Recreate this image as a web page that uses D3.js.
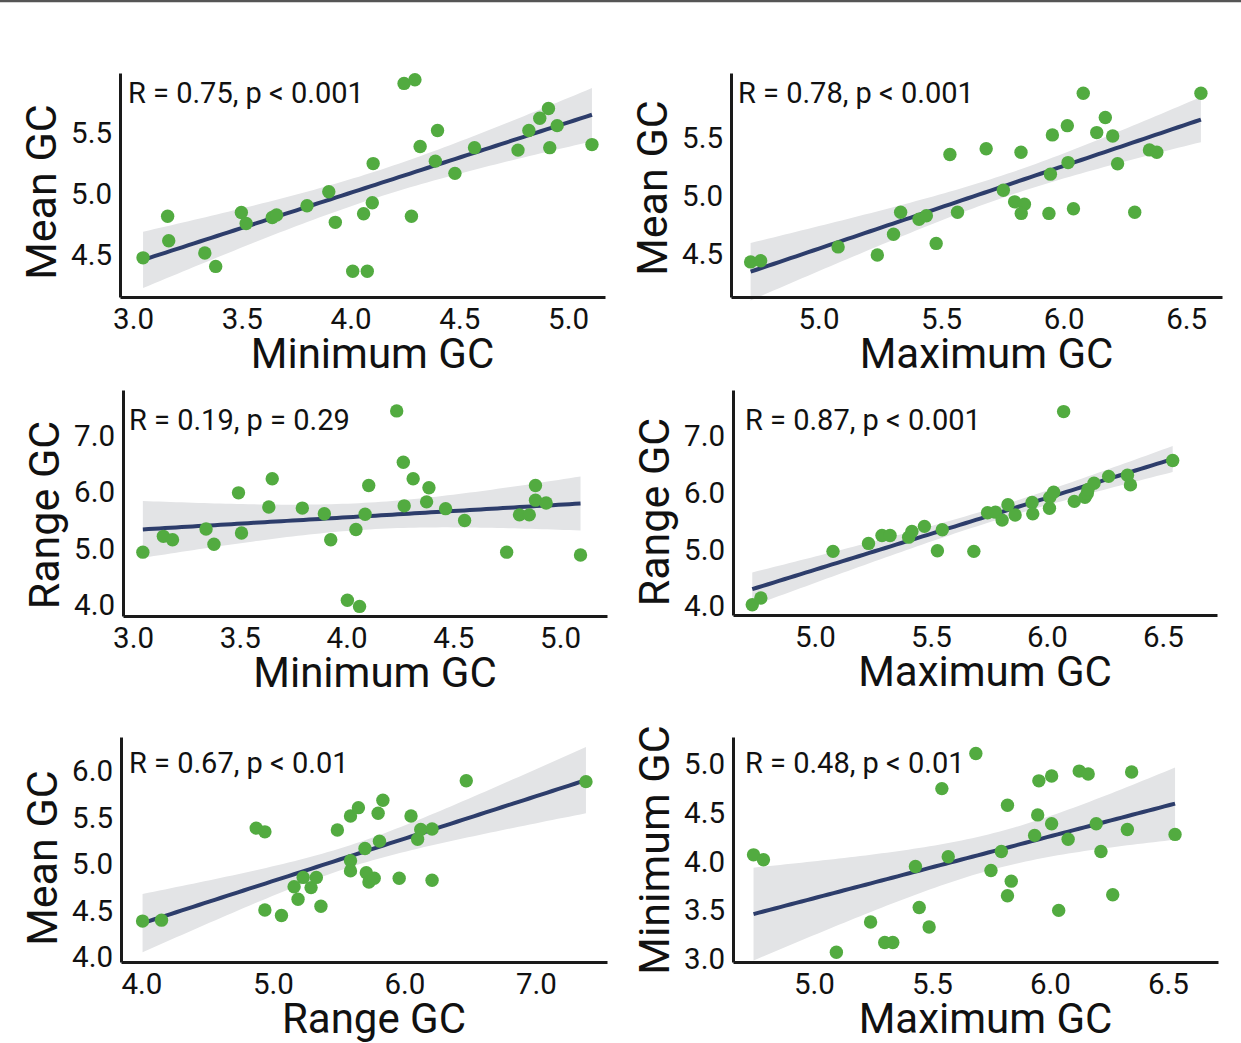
<!DOCTYPE html>
<html>
<head>
<meta charset="utf-8">
<script src="https://cdn.jsdelivr.net/npm/d3@7"></script>
<style>
  body { margin: 0; background: #fff; }
  text { font-family: Roboto, "Noto Sans", sans-serif; fill: #111; }
</style>
</head>
<body>
<svg id="chart" width="1241" height="1043"></svg>
<script>
// --- data ---
// panel 1: Minimum GC (x) vs Mean GC (y)
const minVsMeanX = [3.046,3.159,3.164,3.33,3.38,3.498,3.52,3.64,3.66,3.80,3.90,3.93,4.01,4.077,4.06,4.10,4.104,4.246,4.296,4.28,4.32,4.39,4.40,4.48,4.57,4.77,4.82,4.87,4.91,4.916,4.95,5.11];
const minVsMeanY = [4.48,4.82,4.62,4.52,4.41,4.85,4.76,4.81,4.83,4.905,5.02,4.77,4.37,4.37,4.84,4.93,5.25,5.905,5.935,4.82,5.39,5.27,5.52,5.17,5.38,5.36,5.52,5.62,5.70,5.38,5.56,5.405];

// panel 2: Maximum GC (x) vs Mean GC (y)
const maxVsMeanX = [4.723,4.764,5.08,5.24,5.306,5.335,5.41,5.44,5.48,5.536,5.567,5.684,5.754,5.80,5.84,5.827,5.826,5.94,5.946,5.954,6.018,6.015,6.04,6.08,6.135,6.17,6.20,6.22,6.29,6.35,6.38,6.56];
const maxVsMeanY = [4.43,4.44,4.56,4.49,4.67,4.86,4.80,4.83,4.59,5.36,4.86,5.41,5.05,4.95,4.93,4.85,5.38,4.85,5.19,5.53,5.29,5.61,4.89,5.89,5.55,5.68,5.52,5.28,4.86,5.40,5.38,5.89];

// panel 3: Minimum GC (x) vs Range GC (y)
const minVsRangeX = [3.046,3.142,3.185,3.342,3.379,3.494,3.508,3.636,3.652,3.793,3.896,3.926,4.004,4.061,4.044,4.087,4.104,4.235,4.266,4.27,4.312,4.375,4.386,4.464,4.553,4.75,4.81,4.856,4.885,4.885,4.935,5.096];
const minVsRangeY = [4.94,5.22,5.16,5.35,5.08,5.99,5.28,5.74,6.24,5.72,5.62,5.16,4.09,3.98,5.34,5.61,6.12,7.44,6.53,5.76,6.24,5.83,6.08,5.71,5.50,4.94,5.60,5.60,6.12,5.86,5.81,4.89];

// panel 4: Maximum GC (x) vs Range GC (y)
const maxVsRangeX = [4.73,4.767,5.078,5.231,5.289,5.324,5.404,5.418,5.472,5.528,5.549,5.685,5.744,5.778,5.807,5.832,5.863,5.936,5.939,6.011,6.012,6.029,6.072,6.118,6.164,6.174,6.177,6.203,6.266,6.347,6.36,6.542];
const maxVsRangeY = [4.03,4.15,4.97,5.11,5.25,5.25,5.22,5.32,5.41,4.98,5.35,4.97,5.65,5.66,5.52,5.79,5.61,5.83,5.63,5.73,5.92,6.01,7.43,5.85,5.92,5.99,6.06,6.17,6.29,6.31,6.14,6.57];

// panel 5: Range GC (x) vs Mean GC (y)
const rangeVsMeanX = [4.009,4.153,4.873,4.939,4.939,5.065,5.161,5.191,5.23,5.29,5.33,5.365,5.49,5.59,5.65,5.59,5.59,5.70,5.71,5.73,5.77,5.80,5.81,5.836,5.96,6.05,6.10,6.124,6.21,6.21,6.47,7.38];
const rangeVsMeanY = [4.39,4.40,5.39,5.35,4.51,4.45,4.76,4.625,4.86,4.75,4.86,4.55,5.37,5.52,5.61,5.04,4.93,5.17,4.91,4.81,4.85,5.55,5.25,5.69,4.85,5.52,5.27,5.375,5.38,4.83,5.90,5.89];

// panel 6: Maximum GC (x) vs Minimum GC (y)
const maxVsMinX = [4.744,4.786,5.095,5.24,5.30,5.334,5.43,5.446,5.488,5.542,5.569,5.686,5.75,5.794,5.82,5.82,5.836,5.935,5.948,5.953,6.007,6.007,6.037,6.077,6.124,6.162,6.196,6.216,6.266,6.328,6.346,6.53];
const maxVsMinY = [4.07,4.02,3.07,3.38,3.17,3.17,3.95,3.53,3.33,4.75,4.05,5.11,3.91,4.105,4.58,3.65,3.80,4.27,4.48,4.83,4.39,4.88,3.50,4.23,4.93,4.90,4.39,4.105,3.66,4.33,4.92,4.28];

const xTitles = ["Minimum GC", "Maximum GC", "Minimum GC", "Maximum GC", "Range GC", "Maximum GC"];
const yTitles = ["Mean GC", "Mean GC", "Range GC", "Range GC", "Mean GC", "Minimum GC"];
const statLabels = ["R = 0.75, p < 0.001", "R = 0.78, p < 0.001", "R = 0.19, p = 0.29",
                    "R = 0.87, p < 0.001", "R = 0.67, p < 0.01", "R = 0.48, p < 0.01"];

const xTicks = [[3.0,3.5,4.0,4.5,5.0], [5.0,5.5,6.0,6.5], [3.0,3.5,4.0,4.5,5.0],
                [5.0,5.5,6.0,6.5], [4.0,5.0,6.0,7.0], [5.0,5.5,6.0,6.5]];
const yTicks = [[4.5,5.0,5.5], [4.5,5.0,5.5], [4.0,5.0,6.0,7.0],
                [4.0,5.0,6.0,7.0], [4.0,4.5,5.0,5.5,6.0], [3.0,3.5,4.0,4.5,5.0]];

// axis limits of each panel
const xDomains = [[2.94,5.17], [4.643,6.646], [2.953,5.22], [4.647,6.733], [3.845,7.54], [4.657,6.712]];
const yDomains = [[4.16,5.99], [4.126,6.066], [3.81,7.81], [3.85,7.81], [3.95,6.37], [2.97,5.28]];

// --- layout ---
const boxes = [
  { left: 120, top: 73,  right: 605,  bottom: 297 },
  { left: 731, top: 73,  right: 1222, bottom: 297 },
  { left: 123, top: 390, right: 607,  bottom: 616 },
  { left: 733, top: 390, right: 1217, bottom: 615 },
  { left: 121, top: 737, right: 607,  bottom: 962 },
  { left: 733, top: 737, right: 1218, bottom: 962 }
];
const labelOffsets = [[8, 30], [7, 30], [6, 40], [12, 40], [8, 36], [12, 36]];
const yTitleCenters = [192, 188, 515, 512, 858, 850];

const panels = [
  [minVsMeanX, minVsMeanY], [maxVsMeanX, maxVsMeanY],
  [minVsRangeX, minVsRangeY], [maxVsRangeX, maxVsRangeY],
  [rangeVsMeanX, rangeVsMeanY], [maxVsMinX, maxVsMinY]
];

const svg = d3.select("#chart");

// thin rule along the top edge
svg.append("line")
  .attr("x1", 0).attr("x2", 1241).attr("y1", 1).attr("y2", 1)
  .attr("stroke", "#555").attr("stroke-width", 2.5);

// linear fit with 95% confidence band (like geom_smooth(method = "lm"))
function fitBand(xs, ys) {
  const n = xs.length;
  const mx = d3.mean(xs), my = d3.mean(ys);
  let sxx = 0, sxy = 0;
  for (let i = 0; i < n; i++) {
    sxx += (xs[i] - mx) ** 2;
    sxy += (xs[i] - mx) * (ys[i] - my);
  }
  const b = sxy / sxx, a = my - b * mx;
  let sse = 0;
  for (let i = 0; i < n; i++) sse += (ys[i] - a - b * xs[i]) ** 2;
  const s = Math.sqrt(sse / (n - 2));
  const t = 2.04;
  const [x0, x1] = d3.extent(xs);
  return d3.range(80).map(k => {
    const x = x0 + (x1 - x0) * k / 79;
    const fit = a + b * x;
    const se = s * Math.sqrt(1 / n + (x - mx) ** 2 / sxx);
    return { x, fit, lo: fit - t * se, hi: fit + t * se };
  });
}

panels.forEach(([xs, ys], i) => {
  const box = boxes[i];
  const x = d3.scaleLinear().domain(xDomains[i]).range([box.left, box.right]);
  const y = d3.scaleLinear().domain(yDomains[i]).range([box.bottom, box.top]);
  const g = svg.append("g");

  const band = fitBand(xs, ys);

  g.append("path")
    .datum(band)
    .attr("fill", "#e3e4e6")
    .attr("d", d3.area().x(d => x(d.x)).y0(d => y(d.lo)).y1(d => y(d.hi)));

  g.append("path")
    .datum(band)
    .attr("fill", "none")
    .attr("stroke", "#2d3d6b")
    .attr("stroke-width", 4)
    .attr("d", d3.line().x(d => x(d.x)).y(d => y(d.fit)));

  g.selectAll("circle")
    .data(xs.map((v, k) => [v, ys[k]]))
    .join("circle")
    .attr("cx", d => x(d[0]))
    .attr("cy", d => y(d[1]))
    .attr("r", 6.7)
    .attr("fill", "#52ab40");

  // axes: lines only, no tick marks
  const xAxis = g.append("g")
    .attr("transform", `translate(0,${box.bottom})`)
    .call(d3.axisBottom(x).tickValues(xTicks[i]).tickFormat(d3.format(".1f")).tickSize(0).tickPadding(11));
  const yAxis = g.append("g")
    .attr("transform", `translate(${box.left},0)`)
    .call(d3.axisLeft(y).tickValues(yTicks[i]).tickFormat(d3.format(".1f")).tickSize(0).tickPadding(8));

  [xAxis, yAxis].forEach(ax => {
    ax.select(".domain").attr("stroke", "#1a1a1a").attr("stroke-width", 3);
    ax.selectAll("text")
      .attr("font-family", "Roboto, sans-serif")
      .attr("font-size", 29.5)
      .attr("fill", "#111");
  });

  // axis titles
  g.append("text")
    .attr("x", (box.left + box.right) / 2 + 10)
    .attr("y", box.bottom + 71)
    .attr("text-anchor", "middle")
    .attr("font-size", 42)
    .text(xTitles[i]);

  g.append("text")
    .attr("transform", `translate(${box.left - 64},${yTitleCenters[i]}) rotate(-90)`)
    .attr("text-anchor", "middle")
    .attr("font-size", 43)
    .text(yTitles[i]);

  // correlation label
  g.append("text")
    .attr("x", box.left + labelOffsets[i][0])
    .attr("y", box.top + labelOffsets[i][1])
    .attr("font-size", 29)
    .text(statLabels[i]);
});
</script>
</body>
</html>
